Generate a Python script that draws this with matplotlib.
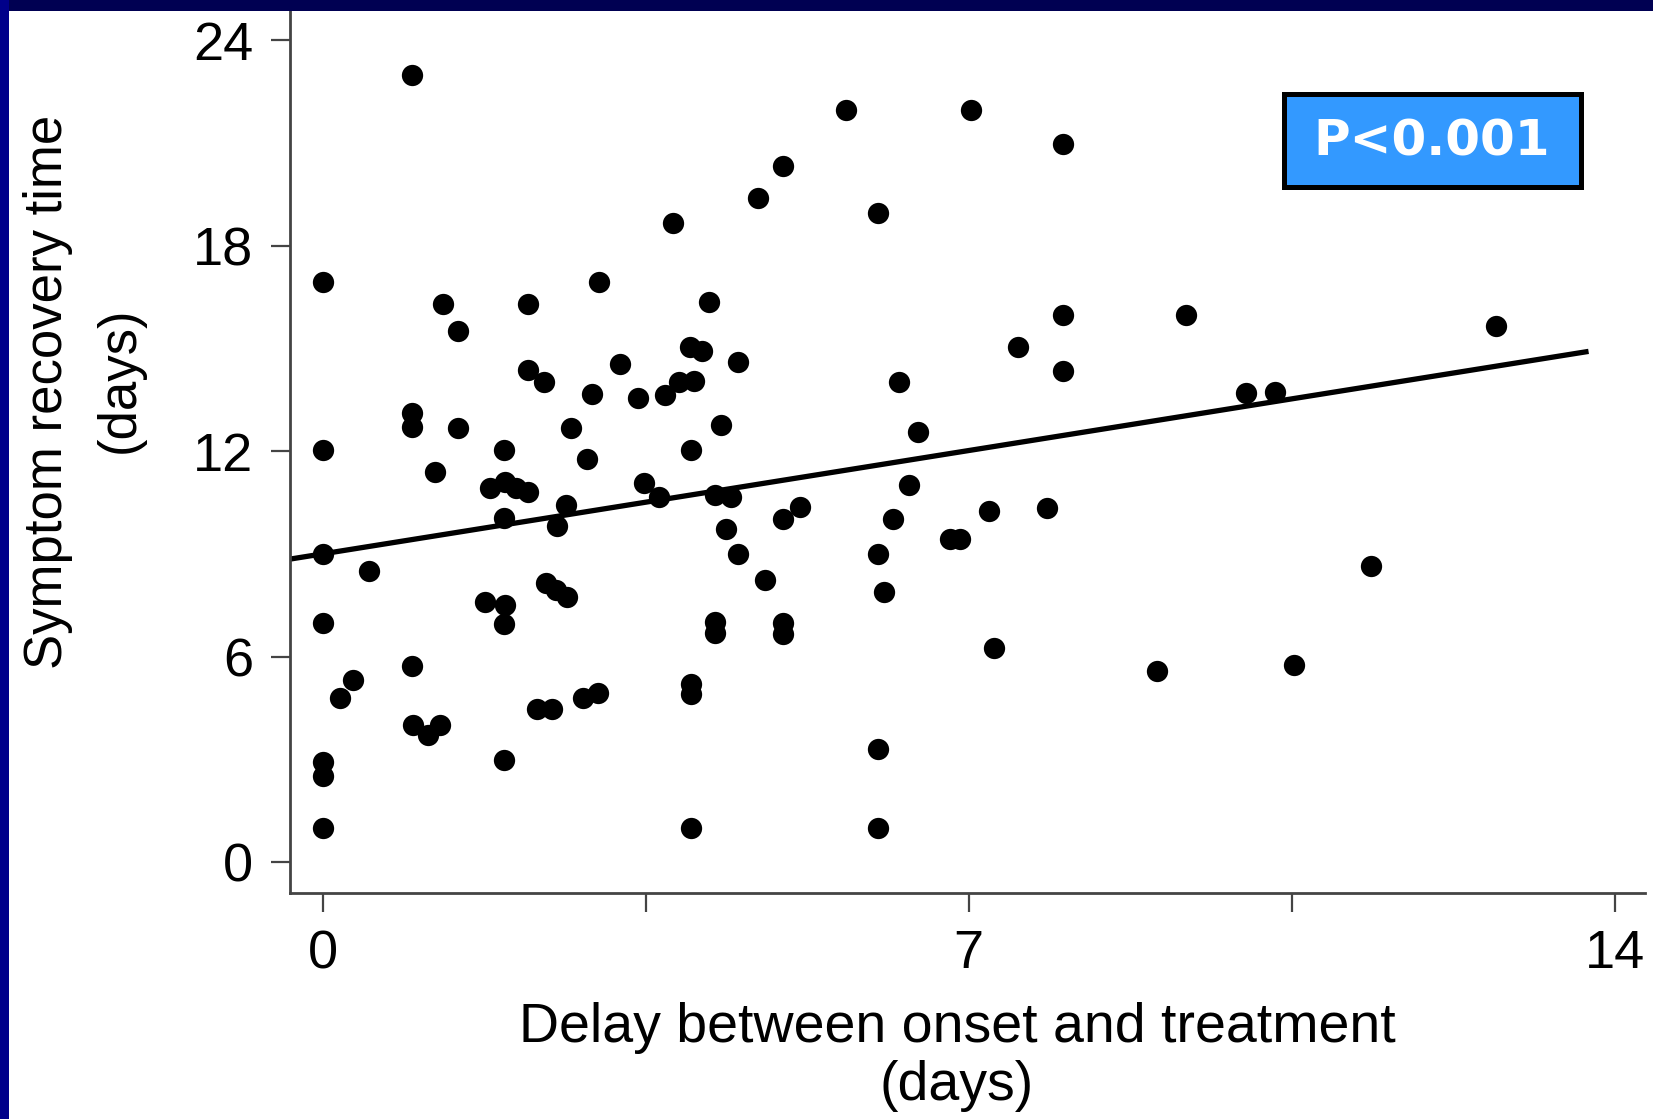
import matplotlib
matplotlib.use('Agg')
import matplotlib.pyplot as plt
from matplotlib.patches import Rectangle

# delay between onset and treatment (days) / symptom recovery time (days)
delay = [0.97, 0, 0, 0, 0, 0, 0, 0, 0.19, 0.33, 0.5, 0.97, 0.97, 0.97, 0.98, 1.14, 1.27,
         1.22, 1.3, 1.47, 1.47, 1.97, 1.81, 1.98, 2.1, 2.23, 1.96, 1.76, 1.98, 1.97, 1.97,
         2.23, 2.23, 2.4, 2.64, 2.54, 2.42, 2.53, 2.65, 2.32, 2.48, 2.69, 2.86, 2.82, 2.98,
         2.92, 2.99, 3.22, 3.42, 3.48, 3.64, 3.71, 3.8, 3.86, 4.02, 3.98, 4.11, 3.99, 3.99,
         3.99, 3.99, 4.19, 4.32, 4.25, 4.42, 4.37, 4.5, 4.5, 4.25, 4.25, 4.72, 4.79, 4.99,
         4.99, 5.17, 4.99, 4.99, 5.67, 6.02, 6.02, 6.08, 6.02, 6.02, 6.18, 6.25, 6.35, 6.45,
         6.8, 6.91, 7.03, 7.22, 7.27, 7.53, 7.85, 8.02, 8.02, 8.02, 9.04, 9.36, 10.01, 10.32,
         10.53, 11.36, 12.71]
recovery = [22.98, 16.95, 12.03, 9.0, 6.99, 2.93, 2.52, 0.99, 4.79, 5.32, 8.51, 13.11, 12.71,
            5.74, 4.0, 3.72, 4.0, 11.4, 16.3, 15.51, 12.67, 12.03, 10.92, 11.11, 10.92, 10.82,
            10.04, 7.61, 7.51, 6.96, 2.97, 16.29, 14.37, 14.03, 10.43, 9.82, 8.14, 7.95, 7.75,
            4.47, 4.47, 12.67, 11.76, 4.8, 4.95, 13.67, 16.95, 14.54, 13.54, 11.06, 10.67,
            13.64, 18.65, 14.03, 14.05, 15.05, 14.92, 12.03, 5.2, 4.92, 0.99, 16.35, 12.76,
            10.72, 10.67, 9.72, 14.61, 9.0, 7.01, 6.7, 19.38, 8.25, 20.33, 10.02, 10.36, 6.99,
            6.65, 21.96, 18.94, 9.01, 7.88, 3.29, 0.99, 10.01, 14.03, 11.02, 12.55, 9.44, 9.44,
            21.96, 10.25, 6.26, 15.03, 10.35, 20.97, 15.97, 14.35, 5.59, 15.97, 13.69, 13.74,
            5.76, 8.66, 15.66]

# fitted line, end points
fit_x = [-0.35, 13.69]
fit_y = [8.85, 14.9]

x_ticks = [0, 3.5, 7, 10.5, 14]
x_labels = ['0', '', '7', '', '14']
y_ticks = [0, 6, 12, 18, 24]
p_text = 'P<0.001'

W, H = 1653, 1119
fig = plt.figure(figsize=(W / 100, H / 100), dpi=100)
fig.patch.set_facecolor('white')

# slide frame (navy bands top and left)
fig.patches.append(Rectangle((0, 1 - 11.0 / H), 1, 11.0 / H, transform=fig.transFigure,
                             facecolor='#000052', edgecolor='none', zorder=5))
fig.patches.append(Rectangle((0, 0), 9.0 / W, 1, transform=fig.transFigure,
                             facecolor='#00008a', edgecolor='none', zorder=5))

ax = fig.add_axes([290.0 / W, 1 - 893.0 / H, 1355.0 / W, 882.0 / H])
ax.scatter(delay, recovery, s=235, c='black', marker='o', linewidths=0, zorder=3)
ax.plot(fit_x, fit_y, color='black', lw=3.8, zorder=2)

ax.set_xlim(-0.354, 14.33)
ax.set_ylim(-0.9, 24.85)

for side in ['top', 'right']:
    ax.spines[side].set_visible(False)
for side in ['left', 'bottom']:
    ax.spines[side].set_color('#444444')
    ax.spines[side].set_linewidth(2.0)

fnt = 'Liberation Sans'
ax.set_xticks(x_ticks)
ax.set_xticklabels(x_labels, fontsize=39, family=fnt)
ax.set_yticks(y_ticks)
ax.set_yticklabels([str(v) for v in y_ticks], fontsize=39, family=fnt)
ax.tick_params(axis='x', direction='out', length=14, width=1.6, color='#444444', pad=12)
ax.tick_params(axis='y', direction='out', length=13.5, width=1.6, color='#444444', pad=13)

# axis titles
fig.text(0.579, 1 - 1028.0 / H, 'Delay between onset and treatment', ha='center', va='center',
         fontsize=40, family=fnt)
fig.text(0.579, 1 - 1086.0 / H, '(days)', ha='center', va='center', fontsize=40, family=fnt)
fig.text(48.0 / W, 1 - 392.0 / H, 'Symptom recovery time', ha='center', va='center',
         rotation=90, fontsize=38, family=fnt)
fig.text(120.0 / W, 1 - 380.0 / H, '(days)', ha='center', va='center',
         rotation=90, fontsize=38, family=fnt)

# P value box
fig.patches.append(Rectangle((1284.0 / W, 1 - 187.0 / H), 297.0 / W, 93.0 / H,
                             transform=fig.transFigure, facecolor='#3399ff',
                             edgecolor='black', lw=3.6, zorder=6))
fig.text(1432.0 / W, 1 - 141.0 / H, p_text, ha='center', va='center', color='white',
         fontsize=36, fontweight='bold', family='DejaVu Sans', zorder=7)

fig.savefig('out.png', dpi=100)
